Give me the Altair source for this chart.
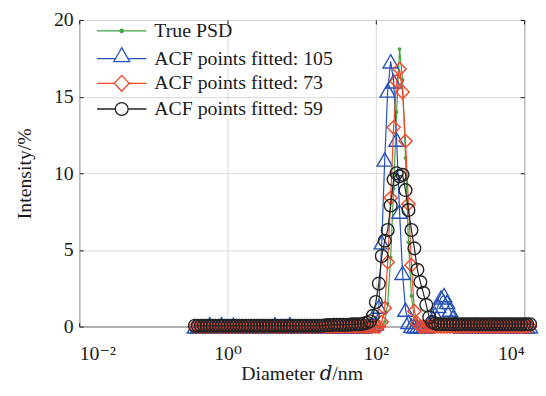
import altair as alt
import pandas as pd

# ---------------- data ----------------
SERIES = ["True PSD", "ACF points fitted: 105", "ACF points fitted: 73", "ACF points fitted: 59"]
COLORS = ["#3ea843", "#2451b8", "#f2472a", "#222222"]

# log10 of diameter (nm) of each grid point
LOG_D = [
    -0.44, -0.40, -0.36, -0.32, -0.28, -0.24, -0.20, -0.16, -0.12, -0.08,
    -0.04, 0.00, 0.04, 0.08, 0.12, 0.16, 0.20, 0.24, 0.28, 0.32,
    0.36, 0.40, 0.44, 0.48, 0.52, 0.56, 0.60, 0.64, 0.68, 0.72,
    0.76, 0.80, 0.84, 0.88, 0.92, 0.96, 1.00, 1.04, 1.08, 1.12,
    1.16, 1.20, 1.24, 1.28, 1.32, 1.36, 1.40, 1.44, 1.48, 1.52,
    1.56, 1.60, 1.64, 1.68, 1.72, 1.76, 1.80, 1.84, 1.88, 1.92,
    1.96, 2.00, 2.04, 2.08, 2.12, 2.16, 2.20, 2.24, 2.28, 2.32,
    2.36, 2.40, 2.44, 2.48, 2.52, 2.56, 2.60, 2.64, 2.68, 2.72,
    2.76, 2.80, 2.84, 2.88, 2.92, 2.96, 3.00, 3.04, 3.08, 3.12,
    3.16, 3.20, 3.24, 3.28, 3.32, 3.36, 3.40, 3.44, 3.48, 3.52,
    3.56, 3.60, 3.64, 3.68, 3.72, 3.76, 3.80, 3.84, 3.88, 3.92,
    3.96, 4.00, 4.04, 4.08,
]

TRUE_PSD = [
    0, 0, 0, 0, 0, 0, 0, 0, 0, 0,
    0, 0, 0, 0, 0, 0, 0, 0, 0, 0,
    0, 0, 0, 0, 0, 0, 0, 0, 0, 0,
    0, 0, 0, 0, 0, 0, 0, 0, 0, 0,
    0, 0, 0, 0, 0, 0, 0, 0, 0, 0,
    0, 0, 0, 0, 0, 0, 0, 0, 0, 0,
    0, 0, 0, 0, 0.3, 1.5, 4.5, 9.0, 14.0, 18.1,
    16.1, 11.0, 5.5, 2.0, 0.5, 0.1, 0, 0, 0, 0,
    0, 0, 0, 0, 0, 0, 0, 0, 0, 0,
    0, 0, 0, 0, 0, 0, 0, 0, 0, 0,
    0, 0, 0, 0, 0, 0, 0, 0, 0, 0,
    0, 0, 0, 0,
]

FIT_105 = [
    0, 0, 0, 0, 0, 0.15, 0, 0, 0, 0.15,
    0, 0, 0, 0.12, 0, 0, 0, 0, 0, 0,
    0, 0, 0, 0, 0, 0, 0, 0.15, 0, 0,
    0, 0, 0.15, 0, 0, 0, 0, 0, 0, 0,
    0, 0, 0, 0, 0, 0, 0, 0, 0, 0,
    0, 0, 0, 0, 0, 0, 0, 0, 0.05, 0.05,
    0.1, 0.2, 1.3, 5.5, 10.9, 15.4, 17.3, 16.0, 12.2, 7.5,
    3.5, 1.1, 0.3, 0.05, 0, 0, 0, 0, 0, 0.05,
    0.3, 0.8, 1.35, 1.9, 2.05, 1.6, 1.1, 0.6, 0.25, 0.05,
    0, 0, 0, 0, 0, 0.1, 0, 0, 0, 0,
    0, 0.1, 0, 0, 0, 0, 0, 0, 0, 0,
    0, 0, 0, 0,
]

FIT_73 = [
    0, 0, 0, 0, 0, 0, 0, 0, 0, 0,
    0, 0, 0, 0, 0, 0, 0, 0, 0, 0,
    0, 0, 0, 0, 0, 0, 0, 0, 0, 0,
    0, 0, 0, 0, 0, 0, 0, 0, 0, 0,
    0, 0, 0, 0, 0, 0, 0, 0, 0, 0,
    0, 0, 0, 0, 0, 0, 0, 0, 0, 0,
    0, 0, 0, 0.3, 1.2, 4.2, 8.4, 13.0, 16.0, 16.8,
    15.3, 12.1, 8.0, 4.0, 1.0, 0.2, 0, 0, 0, 0,
    0, 0, 0, 0, 0, 0, 0, 0, 0, 0,
    0, 0, 0, 0, 0, 0, 0, 0, 0, 0,
    0, 0, 0, 0, 0, 0, 0, 0, 0, 0,
    0, 0, 0, 0,
]

FIT_59 = [
    0.05, 0.05, 0.05, 0.05, 0.05, 0.05, 0.05, 0.05, 0.05, 0.05,
    0.05, 0.05, 0.05, 0.05, 0.05, 0.05, 0.05, 0.05, 0.05, 0.05,
    0.05, 0.05, 0.05, 0.05, 0.05, 0.05, 0.05, 0.05, 0.05, 0.05,
    0.05, 0.05, 0.05, 0.05, 0.05, 0.05, 0.05, 0.05, 0.05, 0.05,
    0.05, 0.05, 0.05, 0.05, 0.08, 0.1, 0.1, 0.12, 0.12, 0.12,
    0.12, 0.12, 0.12, 0.15, 0.15, 0.15, 0.15, 0.2, 0.25, 0.35,
    0.7, 1.6, 2.8, 4.6, 5.6, 6.3, 7.9, 9.6, 10.0, 9.8,
    9.9, 8.9, 7.6, 6.3, 5.1, 3.7, 2.9, 2.2, 1.4, 0.6,
    0.3, 0.2, 0.15, 0.15, 0.15, 0.15, 0.15, 0.15, 0.15, 0.15,
    0.15, 0.15, 0.15, 0.15, 0.15, 0.15, 0.15, 0.15, 0.15, 0.15,
    0.15, 0.15, 0.15, 0.15, 0.15, 0.15, 0.15, 0.15, 0.15, 0.15,
    0.15, 0.15, 0.15, 0.15,
]

X_TICKS = [0.01, 1, 100, 10000]
X_TICK_EXP = [-2, 0, 2, 4]
X_TICK_LABELS = ["10⁻²", "10⁰", "10²", "10⁴"]
Y_TICKS = [0, 5, 10, 15, 20]

X_TITLE = "Diameter 𝑑/nm"
Y_TITLE = "Intensity/%"

# ---------------- styling ----------------
FONT = "Liberation Serif, DejaVu Serif, serif"
INK = "#1a1a1a"
MARKERS = ["circle", "triangle-up", "diamond", "circle"]
MARKER_SIZES = [14, 240, 180, 165]
LEGEND_FILLS = [COLORS[0], "transparent", "transparent", "transparent"]
# legend symbols: line + marker; unit = sqrt(400)/2 = 10 px
LEGEND_PATHS = [
    "M-1.5,0L3.5,0M1.17,0A0.17,0.17 0 1,1 0.83,0A0.17,0.17 0 1,1 1.17,0Z",
    "M-1.5,0L0.37,0M1.63,0L3.5,0M1,-1.1L1.8,0.3L0.2,0.3Z",
    "M-1.5,0L0.25,0M1.75,0L3.5,0M0.25,0L1,-0.8L1.75,0L1,0.8Z",
    "M-1.5,0L0.35,0M1.65,0L3.5,0M1.65,0A0.65,0.65 0 1,1 0.35,0A0.65,0.65 0 1,1 1.65,0Z",
]

series_data = [TRUE_PSD, FIT_105, FIT_73, FIT_59]
for vals in series_data:
    assert len(vals) == len(LOG_D)

rows = []
for name, vals in zip(SERIES, series_data):
    for e, v in zip(LOG_D, vals):
        rows.append({"series": name, "d": 10 ** e, "I": v})
df = pd.DataFrame(rows)

label_expr = " : ".join(
    f"abs(log(datum.value)/LN10 - ({p})) < 0.01 ? '{lab}'" for p, lab in zip(X_TICK_EXP, X_TICK_LABELS)
) + " : ''"

legend = alt.Legend(
    title=None,
    orient="none",
    legendX=22,
    legendY=0,
    padding=0,
    symbolSize=400,
    symbolStrokeWidth=1.3,
    symbolOpacity=1,
    labelFont=FONT,
    labelFontSize=20,
    labelColor=INK,
    labelOffset=32,
    labelLimit=400,
    rowPadding=4,
)

text_style = dict(
    labelFont=FONT, labelFontSize=20, labelColor=INK,
    titleFont=FONT, titleFontSize=20, titleFontWeight="normal", titleColor=INK,
)
tick_style = dict(ticks=True, tickSize=4, tickColor=INK, tickWidth=1, offset=-4, domain=False)

x_scale = alt.Scale(type="log", domain=[0.01, 10000], nice=False)
y_scale = alt.Scale(domain=[0, 20], nice=False)

# main axes: bottom and left, labelled, with grid and inward ticks
x_main = alt.X("d:Q", scale=x_scale, axis=alt.Axis(
    orient="bottom", values=X_TICKS, labelExpr=label_expr, title=X_TITLE,
    labelPadding=17, titlePadding=1, grid=True, gridColor="#d9d9d9", gridWidth=1,
    **tick_style, **text_style))
y_main = alt.Y("I:Q", scale=y_scale, axis=alt.Axis(
    orient="left", values=Y_TICKS, title=Y_TITLE, labelPadding=6, titlePadding=19,
    grid=True, gridColor="#d9d9d9", gridWidth=1, **tick_style, **text_style))
# mirror axes: top and right, inward ticks only
x_top = alt.X("d:Q", scale=x_scale, axis=alt.Axis(
    orient="top", values=X_TICKS, labels=False, title=None, grid=False, **tick_style))
y_right = alt.Y("I:Q", scale=y_scale, axis=alt.Axis(
    orient="right", values=Y_TICKS, labels=False, title=None, grid=False, **tick_style))
x_none = alt.X("d:Q", scale=x_scale, axis=None)
y_none = alt.Y("I:Q", scale=y_scale, axis=None)

color_scale = alt.Scale(domain=SERIES, range=COLORS)
color_plain = alt.Color("series:N", scale=color_scale, legend=None)

base = alt.Chart(df)
layers = []

# legend-only layer: invisible marks; the legend symbols draw line + marker
legend_layer = base.transform_filter(alt.datum.d < 0.4).mark_point(
    size=400, strokeWidth=1.3, opacity=0
).encode(
    x=x_top,
    y=y_right,
    stroke=alt.Stroke("series:N", scale=alt.Scale(domain=SERIES, range=COLORS), legend=legend),
    fill=alt.Fill("series:N", scale=alt.Scale(domain=SERIES, range=LEGEND_FILLS), legend=legend),
    shape=alt.Shape("series:N", scale=alt.Scale(domain=SERIES, range=LEGEND_PATHS), legend=legend),
)
layers.append(legend_layer)

for i, name in enumerate(SERIES):
    sub = base.transform_filter(alt.datum.series == name)
    xe, ye = (x_main, y_main) if i == 0 else (x_none, y_none)
    layers.append(
        sub.mark_line(strokeWidth=1.2).encode(x=xe, y=ye, color=color_plain, order="d:Q")
    )
    layers.append(
        sub.mark_point(
            shape=MARKERS[i],
            size=MARKER_SIZES[i],
            filled=(i == 0),
            strokeWidth=1.4,
            opacity=1,
        ).encode(x=x_none, y=y_none, color=color_plain)
    )

chart = (
    alt.layer(*layers)
    .resolve_axis(x="independent", y="independent")
    .properties(
        width=450,
        height=310,
        autosize=alt.AutoSizeParams(type="none"),
        padding={"left": 72, "top": 10, "right": 14, "bottom": 58},
    )
    .configure_view(stroke="#111111", strokeWidth=1)
)

chart.save("out.html", embed_options={"renderer": "svg", "actions": False})
